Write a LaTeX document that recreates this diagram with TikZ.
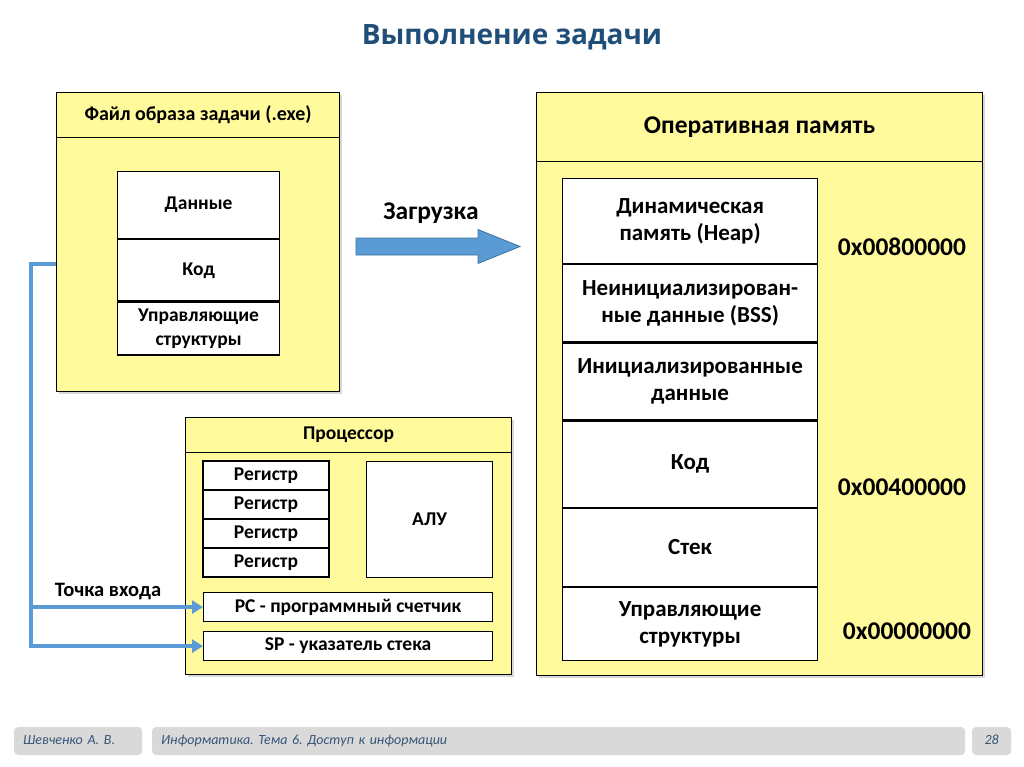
\documentclass[tikz,border=0pt]{standalone}
\usepackage{fontspec}
\setmainfont{Carlito}
\newfontfamily\headfont{Open Sans}
\usetikzlibrary{arrows.meta,shadows}
\definecolor{padyellow}{RGB}{255,250,155}
\definecolor{linkblue}{RGB}{91,155,213}
\definecolor{linkedge}{RGB}{65,113,156}
\definecolor{titleblue}{RGB}{31,78,121}
\definecolor{footgray}{RGB}{217,217,217}
\definecolor{foottext}{RGB}{55,85,120}
\frenchspacing

\begin{document}
\begin{tikzpicture}[x=1pt, y=-1pt,
    panel/.style={draw=black, line width=1.2pt, fill=padyellow, inner sep=0pt, anchor=north west},
    shaded/.style={panel, drop shadow={shadow xshift=2pt, shadow yshift=-2pt, fill=black!30, opacity=0.5}},
    cell/.style={draw=black, line width=1.2pt, fill=white, inner sep=0pt, align=center,
        font=\bfseries\fontsize{19.5}{24}\selectfont},
    bigcell/.style={cell, minimum width=255, font=\bfseries\fontsize{23}{27}\selectfont},
    label/.style={font=\bfseries\fontsize{25.5}{28}\selectfont},
    link/.style={draw=linkblue, line width=3.5pt, -{Triangle[length=11pt,width=13pt]}},
    footbox/.style={fill=footgray, rounded corners=4pt, minimum height=28, inner xsep=9pt,
        text height=10pt, text depth=3pt, text=foottext, font=\itshape\fontsize{14}{16}\selectfont}]
    \useasboundingbox (0,0) rectangle (1024,767);

    \node[font=\headfont\bfseries\fontsize{28}{34}\selectfont, text=titleblue] (title) at (512,37) {Выполнение задачи};

    % image file
    \node[shaded, minimum width=283, minimum height=299] (file) at (56,92) {};
    \node[panel, minimum width=283, minimum height=45, font=\bfseries\fontsize{20}{24}\selectfont] (filehead) at (56,92) {Файл образа задачи (.exe)};
    \node[cell, anchor=north west, minimum width=162, minimum height=67] (fdata) at (117,171) {Данные};
    \node[cell, anchor=north, minimum width=162, minimum height=61] (fcode) at (fdata.south) {Код};
    \node[cell, anchor=north, minimum width=162, minimum height=53] (fctrl) at (fcode.south) {Управляющие\\структуры};

    \draw[draw=linkedge, fill=linkblue, line width=0.8pt] (356,238) -- (478,238) -- (478,229.5) -- (520,246.5)
        -- (478,263.5) -- (478,255) -- (356,255) -- cycle;
    \node[label] (load) at (431,213) {Загрузка};

    % processor
    \node[shaded, minimum width=326, minimum height=257] (cpu) at (185,417) {};
    \node[panel, minimum width=326, minimum height=35, font=\bfseries\fontsize{19.5}{24}\selectfont] (cpuhead) at (185,417) {Процессор};
    \foreach \i in {1,...,4}
        \node[cell, minimum width=126, minimum height=29] (reg\i) at (266,{446.5+29*\i}) {Регистр};
    \node[cell, anchor=north west, minimum width=126, minimum height=116] (alu) at (366,461) {АЛУ};
    \node[cell, anchor=north west, minimum width=289, minimum height=29] (pc) at (203,592) {PC - программный счетчик};
    \node[cell, anchor=north west, minimum width=289, minimum height=29] (sp) at (203,631) {SP - указатель стека};

    \coordinate (tap) at (56,264);
    \coordinate (bend) at (31,264);
    \draw[link] (tap) -- (bend) |- (sp.west);
    \draw[link] (bend |- pc.west) -- (pc.west);
    \node[font=\bfseries\fontsize{20.5}{24}\selectfont] (entry) at (108,591) {Точка входа};

    % memory
    \node[shaded, minimum width=446, minimum height=583] (mem) at (536,92) {};
    \node[panel, minimum width=446, minimum height=69, label] (memhead) at (536,92) {Оперативная память};
    \node[bigcell, anchor=north west, minimum height=85] (heap) at (562,178) {Динамическая\\память (Heap)};
    \node[bigcell, anchor=north, minimum height=77] (bss) at (heap.south) {Неинициализирован-\\ные данные (BSS)};
    \node[bigcell, anchor=north, minimum height=77] (idata) at (bss.south) {Инициализированные\\данные};
    \node[bigcell, anchor=north, minimum height=86] (code) at (idata.south) {Код};
    \node[bigcell, anchor=north, minimum height=78] (stack) at (code.south) {Стек};
    \node[bigcell, anchor=north, minimum height=73] (ctrl) at (stack.south) {Управляющие\\структуры};
    \node[label] (addrhigh) at (902,247) {0x00800000};
    \node[label] (addrmid) at (902,487) {0x00400000};
    \node[label] (addrlow) at (907,631) {0x00000000};

    % footer
    \node[footbox, anchor=west, text width=110pt, align=left] (author) at (14,741) {Шевченко А. В.};
    \node[footbox, anchor=west, text width=795pt, align=left] (topic) at (152,741) {Информатика. Тема 6. Доступ к информации};
    \node[footbox, anchor=west, minimum width=39, inner xsep=0pt] (page) at (972,741) {28};
\end{tikzpicture}
\end{document}
